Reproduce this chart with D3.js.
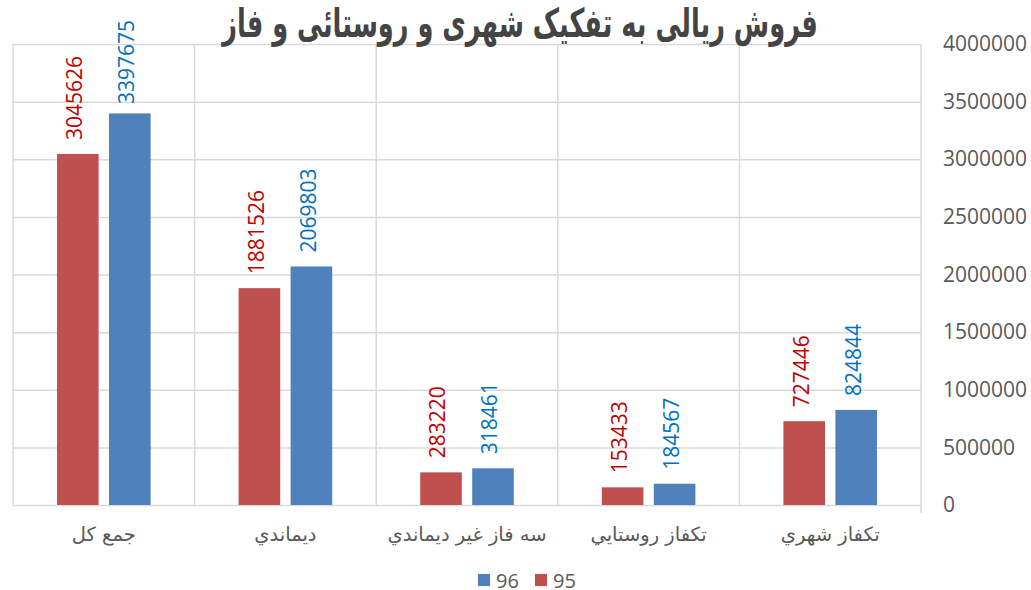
<!DOCTYPE html>
<html>
<head>
<meta charset="utf-8">
<script src="https://cdn.jsdelivr.net/npm/d3@7"></script>
<style>
  body { margin: 0; background: #fff; }
  svg { display: block; }
</style>
</head>
<body>
<div id="chart"></div>
<script>
const categories = ['تکفاز شهري', 'تکفاز روستايي', 'سه فاز غير ديماندي', 'ديماندي', 'جمع کل'];
const seriesNames = ['95', '96'];
const values95 = [727446, 153433, 283220, 1881526, 3045626];
const values96 = [824844, 184567, 318461, 2069803, 3397675];
const yTicks = [0, 500000, 1000000, 1500000, 2000000, 2500000, 3000000, 3500000, 4000000];
const titleText = 'فروش ریالی به تفکیک شهری و روستائی و فاز';

const width = 1031;
const height = 590;
const plot = { left: 13, right: 921, top: 44, bottom: 505 };
const colors = { '95': '#C0504D', '96': '#4F81BD' };
const labelColors = { '95': '#C00000', '96': '#0070C0' };
const gridColor = '#D9D9D9';
const textColor = '#595959';
const numFont = '"Open Sans", "DejaVu Sans", sans-serif';
const arFont = '"DejaVu Sans", sans-serif';

const svg = d3.select('#chart')
  .append('svg')
  .attr('width', width)
  .attr('height', height);

// categories run right to left
const x = d3.scaleBand()
  .domain(categories)
  .range([plot.right, plot.left])
  .padding(0);
const groupPad = 44;
const xInner = d3.scaleBand()
  .domain(seriesNames)
  .range([groupPad, x.bandwidth() - groupPad])
  .paddingInner(0.2);
const y = d3.scaleLinear()
  .domain([0, 4000000])
  .range([plot.bottom, plot.top]);

// horizontal grid + right axis labels
const yAxis = d3.axisRight(y)
  .tickValues(yTicks)
  .tickFormat(d3.format('d'))
  .tickSize(-(plot.right - plot.left))
  .tickPadding(22);
svg.append('g')
  .attr('transform', `translate(${plot.right}, 0)`)
  .call(yAxis)
  .call(g => {
    g.select('.domain').remove();
    g.selectAll('.tick line')
      .attr('stroke', gridColor)
      .attr('stroke-width', 1.5);
    g.selectAll('.tick text')
      .attr('fill', textColor)
      .style('font-family', numFont)
      .style('font-size', '21px');
  });

// vertical separators between categories
const edges = categories.map(c => x(c)).concat([plot.right]);
svg.append('g')
  .selectAll('line')
  .data(edges)
  .join('line')
    .attr('x1', d => d)
    .attr('x2', d => d)
    .attr('y1', plot.top)
    .attr('y2', d => (d === plot.right ? plot.bottom + 8 : plot.bottom))
    .attr('stroke', gridColor)
    .attr('stroke-width', 1.5);

const rows = [];
categories.forEach((c, i) => {
  rows.push({ cat: c, key: '95', value: values95[i] });
  rows.push({ cat: c, key: '96', value: values96[i] });
});

svg.append('g')
  .selectAll('rect')
  .data(rows)
  .join('rect')
    .attr('x', d => x(d.cat) + xInner(d.key))
    .attr('y', d => y(d.value))
    .attr('width', xInner.bandwidth())
    .attr('height', d => y(0) - y(d.value))
    .attr('fill', d => colors[d.key]);

// value labels, rotated, pushed down if they would leave the chart
const labelGap = 14;
const labels = svg.append('g')
  .selectAll('text')
  .data(rows)
  .join('text')
    .attr('fill', d => labelColors[d.key])
    .style('font-family', numFont)
    .style('font-size', '21px')
    .attr('dy', '0.35em')
    .text(d => d.value);
labels.each(function(d) {
  const len = this.getComputedTextLength();
  const cx = x(d.cat) + xInner(d.key) + xInner.bandwidth() / 2 - 3;
  const base = Math.max(y(d.value) - labelGap, 20 + len);
  d3.select(this).attr('transform', `translate(${cx}, ${base}) rotate(-90)`);
});

// category labels
svg.append('g')
  .selectAll('text')
  .data(categories)
  .join('text')
    .attr('x', d => x(d) + x.bandwidth() / 2)
    .attr('y', 541)
    .attr('text-anchor', 'middle')
    .attr('fill', textColor)
    .style('font-family', arFont)
    .style('font-size', '19.5px')
    .text(d => d);

// title: big bold glyphs squeezed horizontally to the original's width
const titleCx = 520;
const title = svg.append('text')
  .attr('x', 0)
  .attr('y', 0)
  .attr('text-anchor', 'middle')
  .attr('fill', '#444')
  .style('font-family', arFont)
  .style('font-weight', 'bold')
  .style('font-size', '40px')
  .text(titleText);
const tLen = title.node().getComputedTextLength();
title.attr('transform', `translate(${titleCx}, 37) scale(${596 / tLen}, 1)`);

// legend
const legend = svg.append('g')
  .selectAll('g')
  .data(['96', '95'])
  .join('g')
    .attr('transform', (d, i) => `translate(${478 + i * 57}, 574)`);
legend.append('rect')
  .attr('width', 12)
  .attr('height', 12)
  .attr('fill', d => colors[d]);
legend.append('text')
  .attr('x', 18)
  .attr('y', 14)
  .attr('fill', textColor)
  .style('font-family', numFont)
  .style('font-size', '20px')
  .text(d => d);
</script>
</body>
</html>
